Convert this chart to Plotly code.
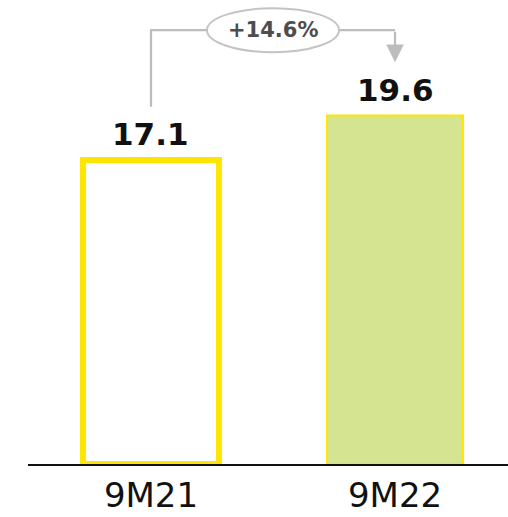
import plotly.graph_objects as go

# Nine-month comparison
periods = ["9M21", "9M22"]
values = [17.1, 19.6]
growth_label = "+14.6%"

fill_colors = ["#FFFFFF", "#D4E491"]
line_colors = ["#FFE600", "#FFE600"]
line_widths = [6, 2]

x_pos = list(range(len(periods)))

fig = go.Figure(
    go.Bar(
        x=x_pos,
        y=values,
        width=0.557,
        marker=dict(color=fill_colors, line=dict(color=line_colors, width=line_widths)),
        cliponaxis=False,
        hoverinfo="skip",
    )
)

# bold value labels above each bar
for xi, v in zip(x_pos, values):
    fig.add_annotation(
        x=xi, y=v, xref="x", yref="y",
        text=f"<b>{v:.1f}</b>", showarrow=False,
        yanchor="middle", yshift=26,
        font=dict(family="DejaVu Sans", size=31, color="#111111"),
    )

# growth connector: up from the first bar, across, and down to the second
gap = 3.0
y_top = 24.4
grey = "#BDBDBD"
fig.add_shape(
    type="path", xref="x", yref="y",
    path=f"M {x_pos[0]},{values[0] + gap} L {x_pos[0]},{y_top} L {x_pos[1]},{y_top}",
    line=dict(color=grey, width=2.2),
)
fig.add_annotation(
    x=x_pos[1], y=values[1] + gap, xref="x", yref="y",
    ax=x_pos[1], ay=y_top, axref="x", ayref="y",
    text="", showarrow=True, arrowhead=2, arrowsize=1.6,
    arrowwidth=2.2, arrowcolor=grey,
)
mid_x = (x_pos[0] + x_pos[1]) / 2
fig.add_shape(
    type="circle", xref="x", yref="y",
    xsizemode="pixel", ysizemode="pixel",
    xanchor=mid_x, yanchor=y_top,
    x0=-66, x1=66, y0=-22, y1=22,
    fillcolor="white", line=dict(color="#C4C4C4", width=2),
    layer="above",
)
fig.add_annotation(
    x=mid_x, y=y_top, xref="x", yref="y",
    text=f"<b>{growth_label}</b>", showarrow=False,
    font=dict(family="DejaVu Sans", size=21, color="#4D4D4D"),
)

fig.update_layout(
    width=508, height=517,
    margin=dict(l=28, r=0, t=0, b=53),
    paper_bgcolor="white", plot_bgcolor="white",
    showlegend=False,
    xaxis=dict(
        range=[-0.504, 1.463],
        tickmode="array", tickvals=x_pos, ticktext=periods,
        showline=True, linecolor="#111111", linewidth=2,
        showgrid=False, zeroline=False, ticks="",
        tickfont=dict(family="DejaVu Sans", size=34, color="#111111"),
    ),
    yaxis=dict(
        range=[0, 26.1], visible=False, showgrid=False, zeroline=False,
    ),
)

fig.write_html("out.html")
